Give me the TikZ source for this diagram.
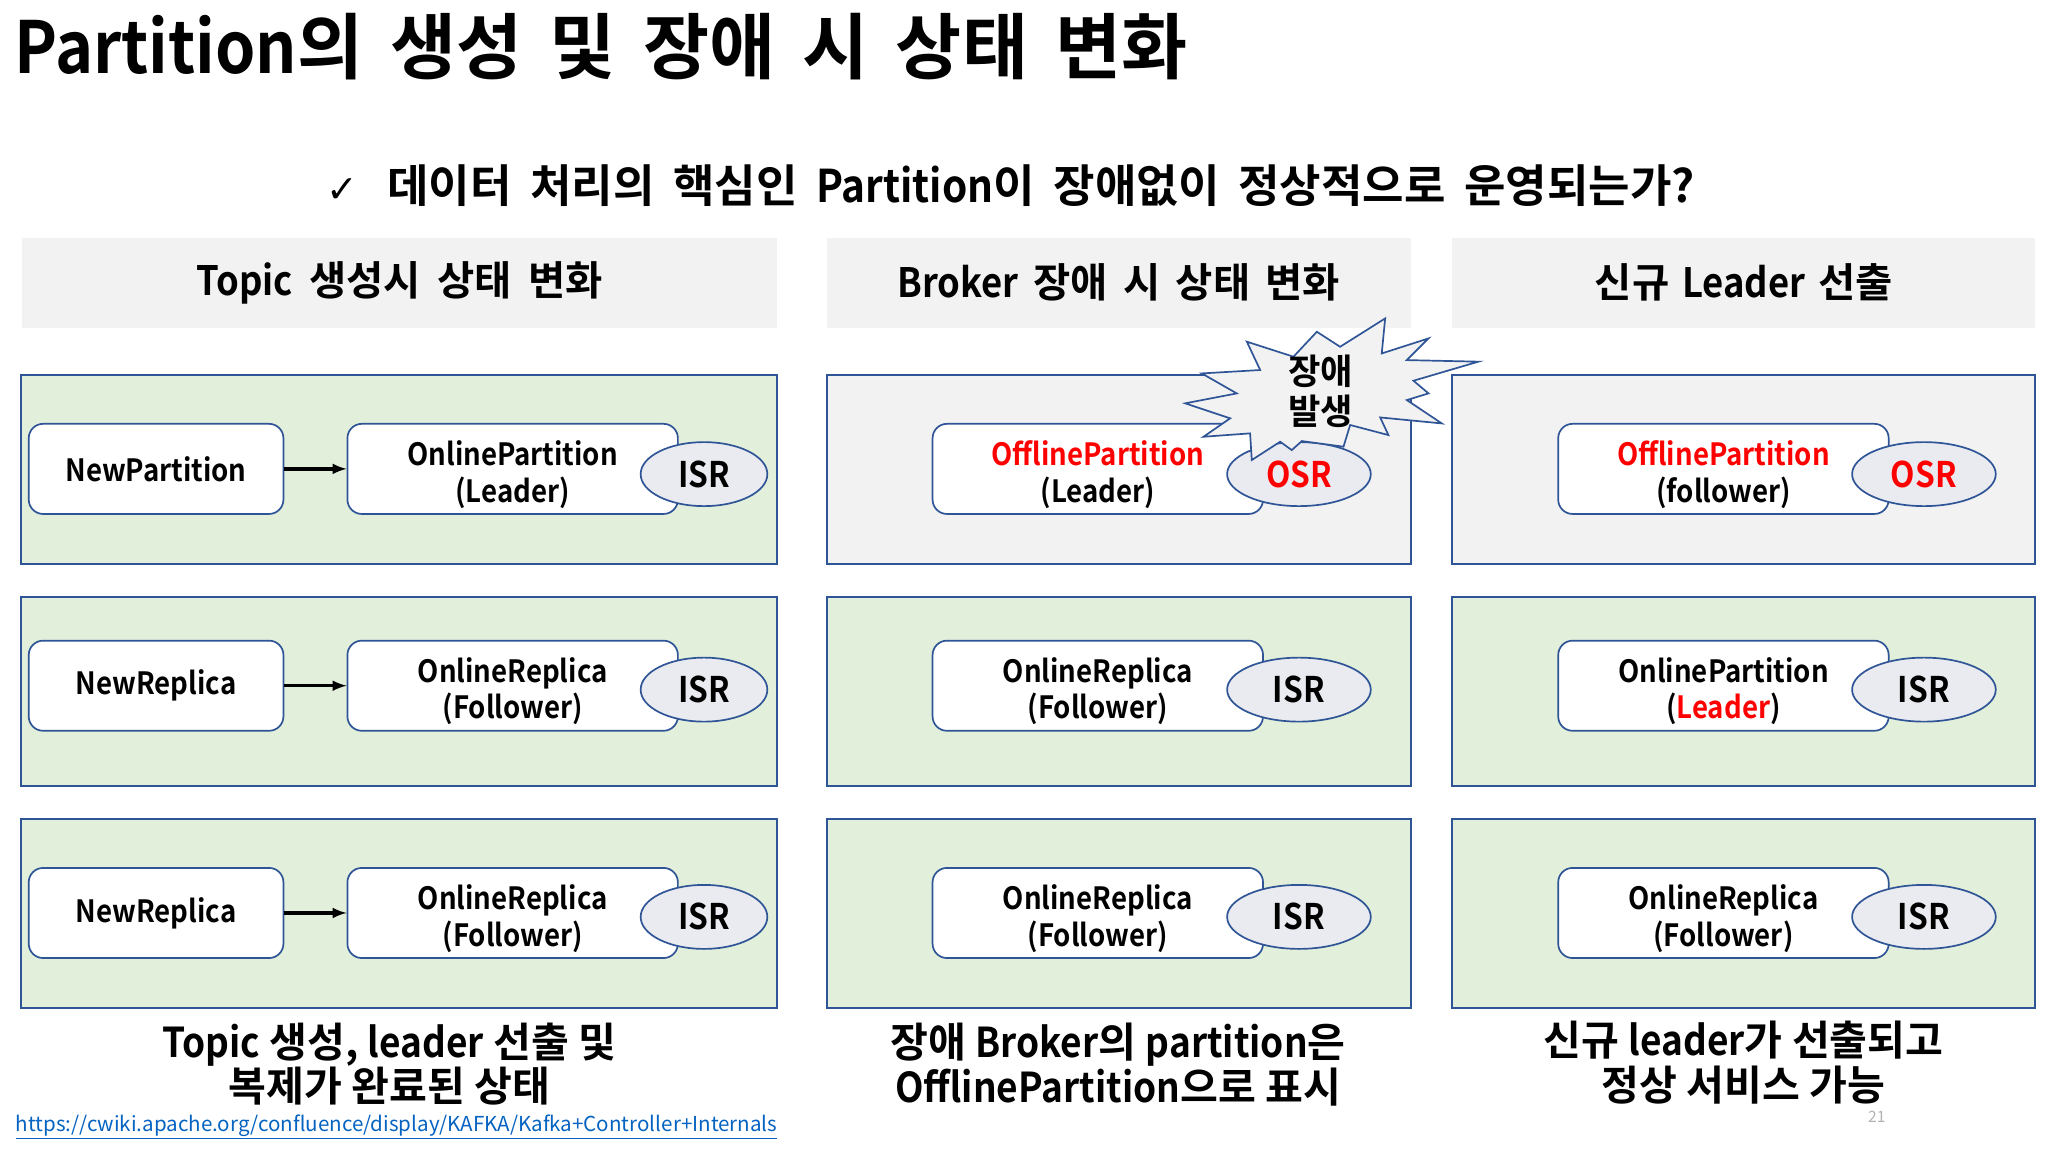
\documentclass[tikz,border=0pt]{standalone}
\usepackage{fontspec}
\setmainfont{Noto Sans CJK KR}[BoldFont={Noto Sans CJK KR Bold}]
\newfontfamily\narrowfont{Noto Sans CJK KR}[BoldFont={Noto Sans CJK KR Bold}, FakeStretch=0.9]
\newfontfamily\symfont{DejaVu Sans}
\newcommand\en[1]{{\narrowfont #1}}
\newcommand\pairtext[2]{\rule{0pt}{27.5pt}#1\\#2}
\usetikzlibrary{shapes.geometric}
\definecolor{edgeblue}{HTML}{2F5597}
\definecolor{panegreen}{HTML}{E2EFDA}
\definecolor{panegray}{HTML}{F2F2F2}
\definecolor{isrgray}{HTML}{E9EBF0}
\definecolor{urlblue}{HTML}{0563C1}
\definecolor{alertred}{HTML}{FF0000}
\tikzset{
  headbox/.style={fill=panegray, minimum width=#1, minimum height=69pt, inner sep=0pt,
    font=\bfseries\fontsize{31}{34}\selectfont},
  pane/.style={draw=edgeblue, line width=1.5pt, minimum width=#1, minimum height=145pt, inner sep=0pt},
  statebox/.style={draw=edgeblue, line width=1.3pt, fill=white, rounded corners=11pt,
    minimum width=#1, minimum height=69pt, inner sep=0pt, align=center,
    font=\narrowfont\bfseries\fontsize{23.5}{28}\selectfont},
  replica/.style={ellipse, draw=edgeblue, line width=1.3pt, fill=isrgray, minimum width=#1,
    minimum height=49pt, inner sep=0pt, font=\narrowfont\bfseries\fontsize{27}{30}\selectfont},
  caption/.style={align=center, inner sep=0pt, font=\bfseries\fontsize{31.5}{34}\selectfont},
  burst/.style={draw=edgeblue, line width=1.3pt, fill=panegray, line join=miter},
  move/.style={->, >=latex, line width=2.6pt}
}
\begin{document}
\begin{tikzpicture}[x=1pt,y=-1pt]
\useasboundingbox (0,0) rectangle (1568,882);
% title and question
\node[anchor=west, inner sep=0pt, font=\bfseries\fontsize{55}{60}\selectfont] (title) at (11,36)
  {\makebox[898pt][s]{\en{Partition}의 생성 및 장애 시 상태 변화}};
\node[anchor=west, inner sep=0pt, font=\bfseries\fontsize{34.5}{38}\selectfont] (question) at (250,142)
  {{\mdseries\symfont\fontsize{29}{30}\selectfont ✓}\hspace{22pt}\makebox[1001pt][s]{데이터 처리의 핵심인 \en{Partition}이 장애없이 정상적으로 운영되는가?}};

% column heads
\node[headbox=578] (hTopic) at (306,216.5) {\raisebox{-3pt}{\makebox[311pt][s]{\en{Topic} 생성시 상태 변화}}};
\node[headbox=447] (hBroker) at (856.5,216.5) {\raisebox{-3pt}{\makebox[339pt][s]{\en{Broker} 장애 시 상태 변화}}};
\node[headbox=446] (hLeader) at (1335,216.5) {\raisebox{-3pt}{\makebox[228pt][s]{신규 \en{Leader} 선출}}};

% panes
\node[pane=579, fill=panegreen] (pTopicA) at (305.5,359.5) {};
\node[pane=579, fill=panegreen] (pTopicB) at (305.5,529.5) {};
\node[pane=579, fill=panegreen] (pTopicC) at (305.5,699.5) {};
\node[pane=447, fill=panegray] (pBrokerA) at (856.5,359.5) {};
\node[pane=447, fill=panegreen] (pBrokerB) at (856.5,529.5) {};
\node[pane=447, fill=panegreen] (pBrokerC) at (856.5,699.5) {};
\node[pane=446, fill=panegray] (pLeaderA) at (1335,359.5) {};
\node[pane=446, fill=panegreen] (pLeaderB) at (1335,529.5) {};
\node[pane=446, fill=panegreen] (pLeaderC) at (1335,699.5) {};

% topic creation
\node[statebox=195] (newPart) at (119.5,359) {NewPartition};
\node[statebox=253] (onPart) at (392.5,359) {\pairtext{OnlinePartition}{(Leader)}};
\node[replica=97] (isrA) at (539,363) {ISR};
\draw[move] (newPart) -- (onPart);
\node[statebox=195] (newRepB) at (119.5,525) {NewReplica};
\node[statebox=253] (onRepB) at (392.5,525) {\pairtext{OnlineReplica}{(Follower)}};
\node[replica=97] (isrB) at (539,528) {ISR};
\draw[move] (newRepB) -- (onRepB);
\node[statebox=195] (newRepC) at (119.5,699) {NewReplica};
\node[statebox=253] (onRepC) at (392.5,699) {\pairtext{OnlineReplica}{(Follower)}};
\node[replica=97] (isrC) at (539,702) {ISR};
\draw[move] (newRepC) -- (onRepC);

% broker failure
\node[statebox=253] (offPart) at (840.5,359) {\pairtext{\textcolor{alertred}{OfflinePartition}}{(Leader)}};
\node[replica=110, text=alertred] (osrA) at (994.5,363) {OSR};
\node[statebox=253] (brRepB) at (840.5,525) {\pairtext{OnlineReplica}{(Follower)}};
\node[replica=110] (brIsrB) at (994.5,528) {ISR};
\node[statebox=253] (brRepC) at (840.5,699) {\pairtext{OnlineReplica}{(Follower)}};
\node[replica=110] (brIsrC) at (994.5,702) {ISR};

% new leader
\node[statebox=253] (oldLead) at (1319.5,359) {\pairtext{\textcolor{alertred}{OfflinePartition}}{(follower)}};
\node[replica=110, text=alertred] (osrN) at (1473,363) {OSR};
\node[statebox=253] (newLead) at (1319.5,525) {\pairtext{OnlinePartition}{(\textcolor{alertred}{Leader})}};
\node[replica=110] (isrN) at (1473,528) {ISR};
\node[statebox=253] (ldRepC) at (1319.5,699) {\pairtext{OnlineReplica}{(Follower)}};
\node[replica=110] (ldIsrC) at (1473,702) {ISR};

% failure burst
\draw[burst] (958.4,352.2) -- (980.1,338.2) -- (989,344.6) -- (996.7,337.7) -- (1028.6,342) -- (1033.7,325.4)
  -- (1063,333.1) -- (1056.7,319.6) -- (1103.9,324.2) -- (1077.1,306.3) -- (1093.7,301.2) -- (1082.2,291.5)
  -- (1131.9,276.9) -- (1077.1,275.7) -- (1093.7,259.1) -- (1057.9,270.6) -- (1060.5,243.8) -- (1026,265.5)
  -- (1008.2,254) -- (990.3,273.1) -- (954.6,261.6) -- (964.8,283.3) -- (920.1,285.9) -- (946.9,301.2)
  -- (907.4,308.8) -- (941.8,320.3) -- (921.4,334.4) -- (957.1,331.8) -- cycle;
\node[align=center, inner sep=0pt, font=\bfseries\fontsize{27}{31}\selectfont] (fault) at (1011,299.5) {장애\\발생};

% captions
\node[text=gray!60, inner sep=0pt, font=\fontsize{12}{13}\selectfont] (pageNo) at (1437,855) {21};
\node[caption] (cTopic) at (298,814.5) {\en{Topic} 생성, \en{leader} 선출 및\\복제가 완료된 상태};
\node[caption] (cBroker) at (856,815) {장애 \en{Broker}의 \en{partition}은\\\en{OfflinePartition}으로 표시};
\node[caption] (cLeader) at (1335,813.5) {신규 \en{leader}가 선출되고\\정상 서비스 가능};
\node[anchor=west, inner sep=0pt, text=urlblue, font=\fontsize{15.75}{18}\selectfont] (src) at (12,863) {\underline{https://cwiki.apache.org/confluence/display/KAFKA/Kafka+Controller+Internals}};
\end{tikzpicture}
\end{document}
